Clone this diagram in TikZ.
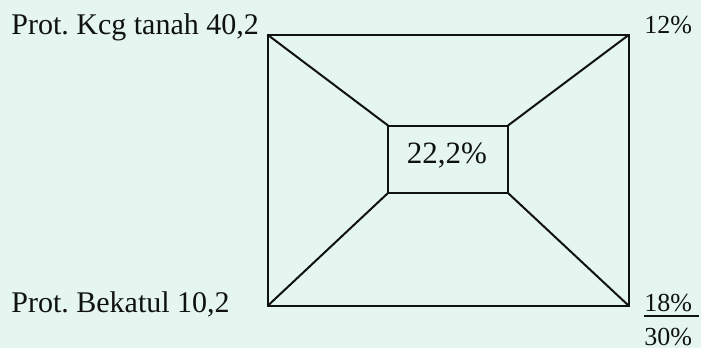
\documentclass[tikz,border=0pt]{standalone}
\usepackage{fontspec}
\setmainfont{Liberation Serif}
\frenchspacing
\usetikzlibrary{positioning}
\definecolor{ink}{RGB}{15,18,16}
\definecolor{paper}{RGB}{229,245,239}
\tikzset{
    line cap=round,
    line join=round,
    edge line/.style={
        draw=ink,
        line width=1pt
    },
    corner label/.style={
        inner sep=0pt,
        text=ink,
        font=\fontsize{15}{18}\selectfont
    },
    share label/.style={
        inner sep=0pt,
        text=ink,
        font=\fontsize{13}{16}\selectfont
    },
    mid label/.style={
        inner sep=0pt,
        text=ink,
        font=\fontsize{15.5}{18}\selectfont
    }
}

\begin{document}
\begin{tikzpicture}[x=0.5pt, y=-0.5pt]

    \fill[paper] (0,0) rectangle (701,348);
    \useasboundingbox (0,0) rectangle (701,348);

    % Outer square
    \coordinate (o1) at (267.5, 34.7);
    \coordinate (o2) at (629, 34.7);
    \coordinate (o3) at (629, 306);
    \coordinate (o4) at (267.5, 306);
    \draw[edge line] (o1) -- (o2) -- (o3) -- (o4) -- cycle;

    % Inner box
    \coordinate (i1) at (388, 125.5);
    \coordinate (i2) at (508, 125.5);
    \coordinate (i3) at (508, 193);
    \coordinate (i4) at (388, 193);
    \draw[edge line] (i1) -- (i2) -- (i3) -- (i4) -- cycle;

    % Diagonals
    \draw[edge line] (o1) -- (i1);
    \draw[edge line] (o2) -- (i2);
    \draw[edge line] (o3) -- (i3);
    \draw[edge line] (o4) -- (i4);

    % Labels
    \node[corner label, anchor=base west] (kcg) at (11, 34.7) {Prot. Kcg tanah 40,2};
    \node[corner label, anchor=base west] (bek) at (11, 312) {Prot. Bekatul 10,2};
    \node[mid label, anchor=base] (mid) at (447, 163) {22,2\%};
    \node[share label, anchor=base west] (p12) at (644, 33) {12\%};
    \node[share label, anchor=base west] (p18) at (644, 311.5) {18\%};
    \node[share label, anchor=base west] (p30) at (644, 345) {30\%};

    % Sum line
    \coordinate (sl) at (644, 315.7);
    \coordinate (sr) at (699, 315.7);
    \draw[edge line, line cap=butt] (sl) -- (sr);

\end{tikzpicture}
\end{document}
